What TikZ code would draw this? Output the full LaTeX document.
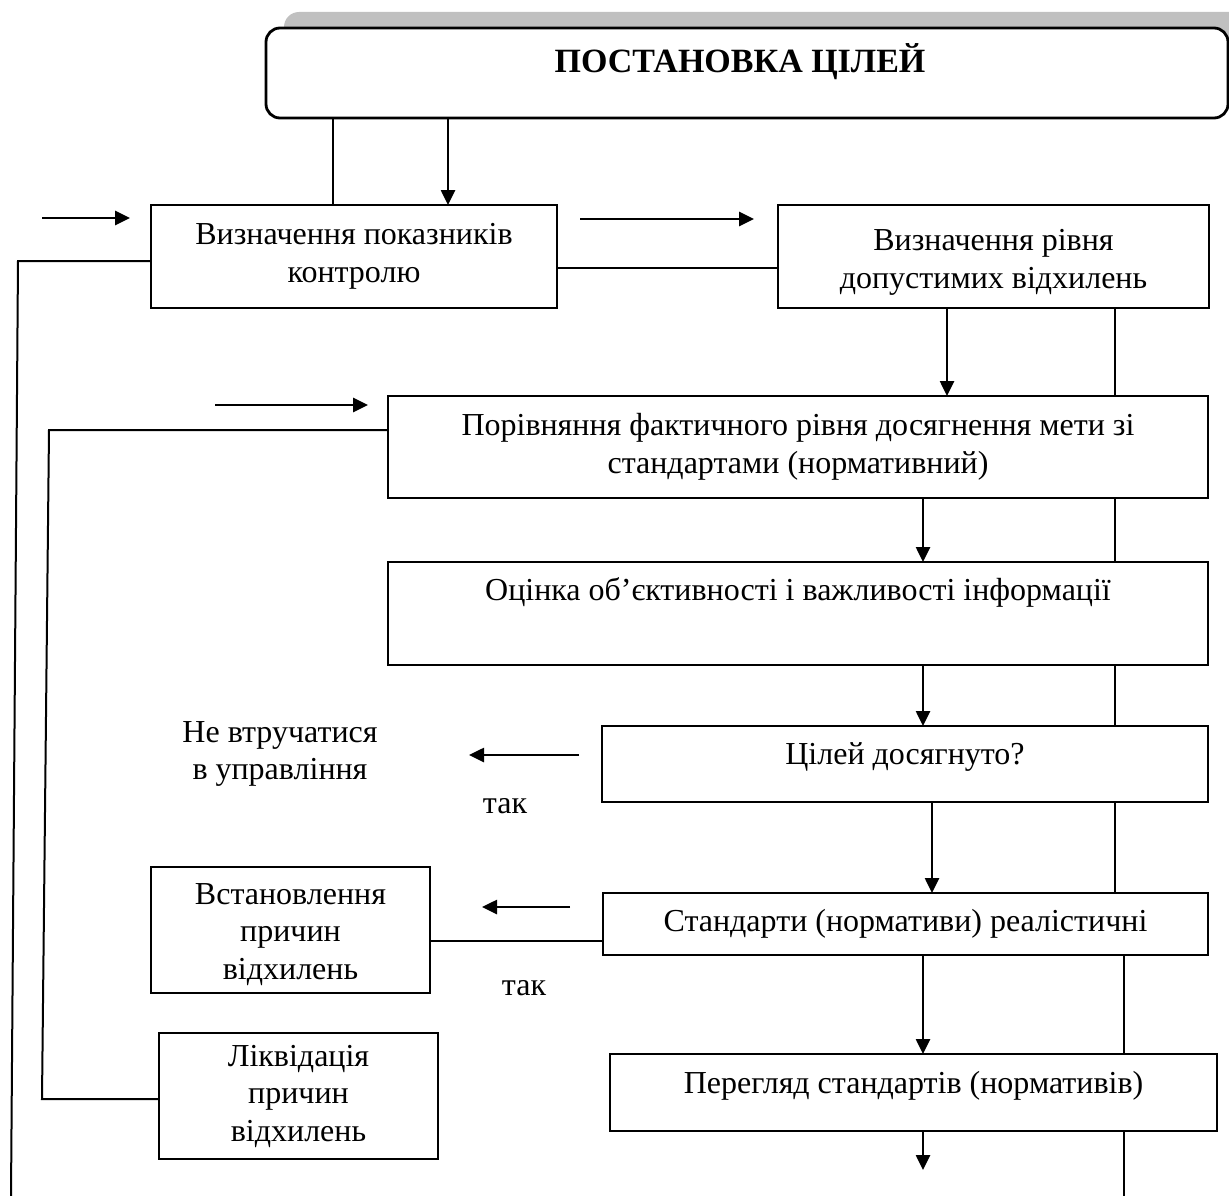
\documentclass[tikz,border=0pt]{standalone}
\usepackage{fontspec}
\setmainfont{Liberation Serif}
\usetikzlibrary{arrows.meta}
\definecolor{shadowgray}{RGB}{192,192,192}
\begin{document}
\begin{tikzpicture}[x=1pt,y=-1pt,
  txt/.style={font=\fontsize{32}{37.5}\selectfont, align=center},
  box/.style={draw, line width=2.2pt, inner sep=0pt, outer sep=0pt, txt},
  conn/.style={line width=2pt},
  arr/.style={line width=2.6pt, -{Triangle[length=15pt,width=14pt]}},
]
\useasboundingbox (0,0) rectangle (1229,1196);
% shadow of the title box
\fill[shadowgray, rounded corners=15pt] (284,12) rectangle (1260,100);
\node[box, line width=2.8pt, rounded corners=14pt, fill=white,
      minimum width=962pt, minimum height=90pt,
      font=\bfseries\fontsize{34}{40}\selectfont, text height=22.5pt, text depth=24pt]
      (title) at (747,73) {ПОСТАНОВКА ЦІЛЕЙ\hspace*{14pt}};

\node[box, minimum width=406pt, minimum height=103pt] (b1) at (354,256.5) {Визначення показників\\контролю};
\node[box, minimum width=431pt, minimum height=103pt] (b2) at (993.5,256.5) {\rule{0pt}{33pt}Визначення рівня\\допустимих відхилень};
\node[box, minimum width=820pt, minimum height=102pt] (b3) at (798,447) {Порівняння фактичного рівня досягнення мети зі\\стандартами (нормативний)};
\node[box, minimum width=820pt, minimum height=103pt] (b4) at (798,613.5) {Оцінка об’єктивності і важливості інформації\\\strut};
\node[box, minimum width=606pt, minimum height=76pt, text depth=20pt] (b5) at (905,764) {Цілей досягнуто?};
\node[box, minimum width=605pt, minimum height=62pt] (b6) at (905.5,924) {Стандарти (нормативи) реалістичні};
\node[box, minimum width=279pt, minimum height=126pt] (b7) at (290.5,930) {\rule{0pt}{30pt}Встановлення\\причин\\відхилень};
\node[box, minimum width=279pt, minimum height=126pt] (b8) at (298.5,1096) {Ліквідація\\причин\\відхилень};
\node[box, minimum width=607pt, minimum height=77pt, text depth=20pt] (b9) at (913.5,1092.5) {Перегляд стандартів (нормативів)};

\node[txt] (nt) at (280,754) {Не втручатися\\в управління};
\node[txt, anchor=base] (tak1) at (505,813) {так};
\node[txt, anchor=base] (tak2) at (524,995) {так};

% helper coordinates
\coordinate (V333) at (333,0);
\coordinate (V448) at (448,0);
\coordinate (V947) at (947,0);
\coordinate (V923) at (923,0);
\coordinate (V932) at (932,0);
\coordinate (R1) at (1115,0);
\coordinate (R2) at (1124,0);
\coordinate (Rend) at (1124,1196);
\coordinate (Dend) at (923,1170);
\coordinate (L1a) at (18,261);
\coordinate (L1b) at (11,1196);
\coordinate (L2a) at (49,430);
\coordinate (L2b) at (42,1099);
\coordinate (a1s) at (42,218);  \coordinate (a1e) at (130,218);
\coordinate (a2s) at (580,219); \coordinate (a2e) at (754,219);
\coordinate (a3s) at (215,405); \coordinate (a3e) at (368,405);
\coordinate (a4s) at (579,755); \coordinate (a4e) at (469,755);
\coordinate (a5s) at (570,907); \coordinate (a5e) at (482,907);

% title to first box
\draw[conn] (title.south -| V333) -- (b1.north -| V333);
\draw[arr] (title.south -| V448) -- (b1.north -| V448);

% free arrows
\draw[arr] (a1s) -- (a1e);
\draw[arr] (a2s) -- (a2e);
\draw[arr] (a3s) -- (a3e);
\draw[arr] (a4s) -- (a4e);
\draw[arr] (a5s) -- (a5e);

% horizontal links
\draw[conn] ([yshift=-11.5pt]b1.east) -- ([yshift=-11.5pt]b2.west);
\draw[conn] ([yshift=-17pt]b6.west) -- ([yshift=-17pt]b6.west -| b7.east);

% feedback lines on the left
\draw[conn] ([yshift=-4.5pt]b1.west) -- (L1a) -- (L1b);
\draw[conn] ([yshift=17pt]b3.west) -- (L2a) -- (L2b) -- ([yshift=-3pt]b8.west);

% main downward flow
\draw[arr] (b2.south -| V947) -- (b3.north -| V947);
\draw[arr] (b3.south -| V923) -- (b4.north -| V923);
\draw[arr] (b4.south -| V923) -- (b5.north -| V923);
\draw[arr] (b5.south -| V932) -- (b6.north -| V932);
\draw[arr] (b6.south -| V923) -- (b9.north -| V923);
\draw[arr] (b9.south -| V923) -- (Dend);

% right-hand line
\draw[conn] (b2.south -| R1) -- (b3.north -| R1);
\draw[conn] (b3.south -| R1) -- (b4.north -| R1);
\draw[conn] (b4.south -| R1) -- (b5.north -| R1);
\draw[conn] (b5.south -| R1) -- (b6.north -| R1);
\draw[conn] (b6.south -| R2) -- (b9.north -| R2);
\draw[conn] (b9.south -| R2) -- (Rend);
\end{tikzpicture}
\end{document}
